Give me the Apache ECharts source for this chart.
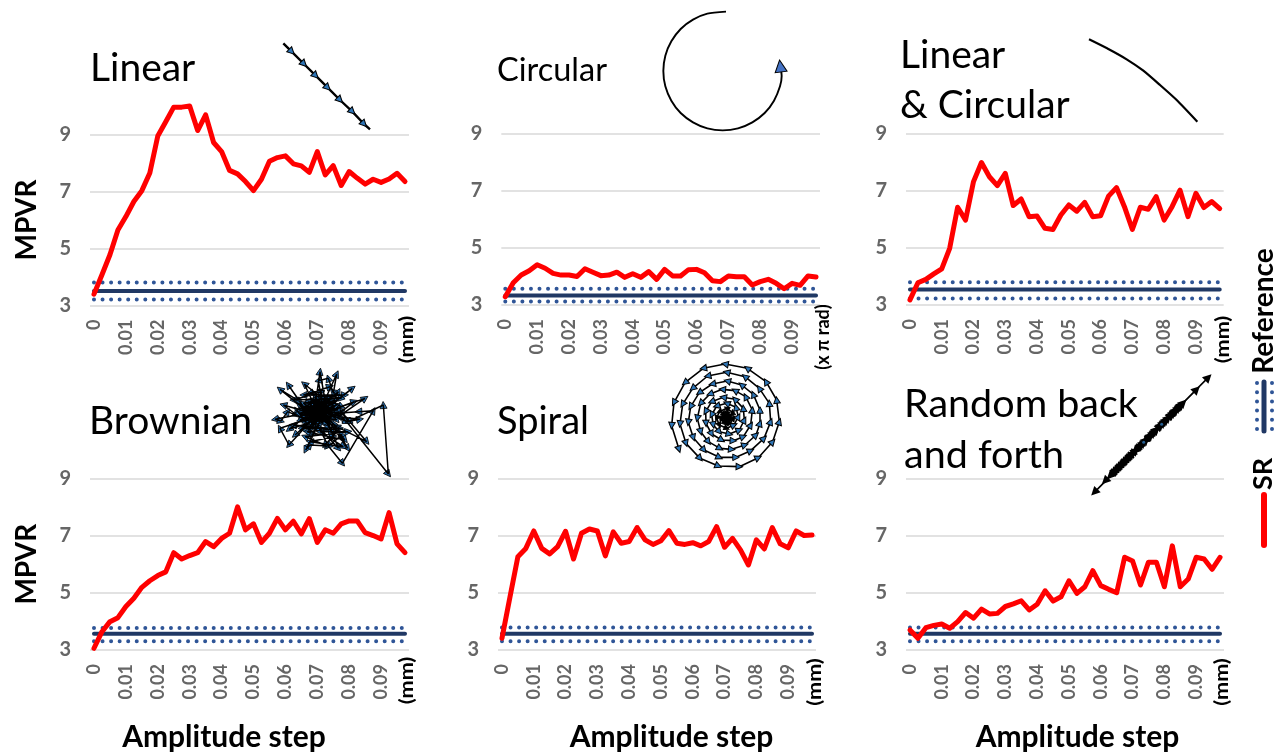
<!DOCTYPE html>
<html>
<head>
<meta charset="utf-8">
<style>html,body{margin:0;padding:0;background:#fff}#c{width:1285px;height:755px}</style>
<script src="https://cdn.jsdelivr.net/npm/echarts@6/dist/echarts.min.js"></script>
</head>
<body>
<div id="c"></div>
<script>
const stepLabels = ['0','','','','0.01','','','','0.02','','','','0.03','','','','0.04','','','','0.05','','','','0.06','','','','0.07','','','','0.08','','','','0.09','','',''];
const yTicks = [3,5,7,9];

const srLinear = [3.4,4.08,4.78,5.65,6.12,6.65,7.03,7.65,8.95,9.45,9.96,9.96,10.0,9.14,9.69,8.72,8.4,7.74,7.62,7.35,7.03,7.43,8.06,8.19,8.25,7.97,7.9,7.67,8.4,7.58,7.91,7.21,7.7,7.47,7.26,7.43,7.32,7.44,7.64,7.35];
const srCircular = [3.29,3.78,4.05,4.2,4.41,4.29,4.11,4.05,4.05,4.0,4.27,4.15,4.03,4.05,4.15,3.97,4.1,3.97,4.17,3.9,4.25,4.02,4.02,4.24,4.25,4.13,3.85,3.82,4.02,3.99,3.99,3.7,3.82,3.9,3.76,3.57,3.76,3.69,4.02,3.98];
const srLinearCircular = [3.18,3.78,3.9,4.09,4.27,4.99,6.43,5.98,7.33,8.0,7.5,7.19,7.62,6.49,6.72,6.1,6.12,5.69,5.65,6.16,6.51,6.29,6.6,6.1,6.13,6.82,7.12,6.45,5.65,6.43,6.36,6.8,5.98,6.45,7.03,6.1,6.92,6.42,6.63,6.38];
const srBrownian = [3.06,3.64,3.99,4.13,4.52,4.81,5.19,5.42,5.6,5.73,6.4,6.18,6.3,6.4,6.79,6.61,6.9,7.08,8.0,7.2,7.41,6.76,7.08,7.6,7.2,7.5,7.06,7.59,6.76,7.2,7.08,7.41,7.51,7.51,7.1,7.0,6.88,7.8,6.71,6.4];
const srSpiral = [3.41,4.84,6.26,6.55,7.16,6.55,6.36,6.61,7.15,6.18,7.08,7.23,7.16,6.29,7.13,6.73,6.79,7.28,6.85,6.69,6.82,7.17,6.73,6.69,6.75,6.64,6.79,7.31,6.59,6.9,6.5,5.97,6.85,6.53,7.28,6.71,6.57,7.16,7.0,7.02];
const srRandom = [3.7,3.41,3.78,3.86,3.91,3.76,3.99,4.31,4.11,4.43,4.26,4.28,4.52,4.61,4.72,4.4,4.6,5.07,4.71,4.86,5.42,4.98,5.21,5.77,5.25,5.12,5.0,6.24,6.11,5.27,6.07,6.07,5.21,6.64,5.21,5.48,6.24,6.18,5.82,6.24];

const refLinear = [3.21,3.51,3.81];
const refCircular = [3.12,3.33,3.57];
const refLinearCircular = [3.23,3.54,3.8];
const refBrownian = [3.31,3.57,3.77];
const refSpiral = [3.31,3.57,3.79];
const refRandom = [3.31,3.57,3.79];

// trajectory sketches in local units of the inset box
const pathLinear = [[25,25],[50,50],[87,87],[122,122],[158,158],[195,195],[232,230],[267,267],[285,283]];
const pathCircle = [[888,35],[832,41],[789,59],[752,87],[724,124],[706,167],[700,213],[706,259],[724,302],[752,339],[789,367],[832,385],[878,391],[924,385],[967,367],[1004,339],[1032,302],[1050,259],[1055,228],[1051,198]];
const pathArc = [[687,118],[745,147],[800,178],[850,212],[900,255],[950,300],[1012,365]];
const pathBrownian = [[150,160],[165,140],[130,175],[185,150],[120,140],[170,185],[205,135],[140,120],[110,165],[190,170],[150,130],[215,160],[125,190],[95,150],[175,115],[230,140],[160,175],[100,130],[145,195],[200,110],[135,150],[190,130],[118,72],[150,140],[165,35],[180,120],[215,42],[205,100],[190,55],[160,62],[175,150],[262,85],[200,135],[220,95],[140,165],[45,88],[105,125],[70,75],[125,155],[55,135],[95,165],[30,178],[48,183],[68,155],[115,175],[72,208],[130,190],[90,225],[140,180],[72,255],[45,205],[150,170],[130,212],[180,160],[140,225],[165,185],[122,270],[135,255],[190,258],[160,200],[220,265],[185,175],[248,265],[205,190],[195,215],[232,225],[190,258],[232,310],[325,152],[280,155],[215,160],[245,185],[285,178],[220,170],[300,115],[200,150],[268,125],[210,170],[245,185],[370,342],[355,135],[250,185],[225,150],[305,245],[215,200],[175,165],[130,150],[200,175],[115,130],[165,120],[145,180],[210,145],[105,180],[185,140],[125,165],[195,190],[155,145],[225,170],[135,135],[175,190],[110,150],[205,125],[145,170],[190,155],[120,185],[170,130],[215,180],[100,160],[160,150],[230,160],[140,190],[180,125],[125,145],[200,165],[150,185],[185,165],[135,170],[165,155],[240,240],[125,215],[225,205],[180,255],[120,230],[250,215],[165,215],[235,260],[135,245],[205,230],[150,110],[240,105],[115,105],[195,80],[135,100],[230,115],[85,120],[170,95],[150,205],[85,195],[190,205],[110,205],[210,120],[160,140],[120,160],[180,180],[140,145],[200,145],[155,165],[175,135],[130,125],[220,150],[145,155],[190,180],[110,175],[215,135],[165,170],[125,135],[185,190],[150,120],[205,160]];
const pathSpiralInward = [[57,268],[35,197],[42,128],[75,68],[130,25],[195,12],[262,25],[318,65],[350,120],[358,185],[338,245],[295,293],[238,320],[175,318],[120,295],[78,250],[60,192],[68,133],[98,85],[143,48],[200,37],[255,50],[298,85],[328,130],[332,185],[312,235],[272,272],[228,292],[178,292],[132,270],[100,233],[85,187],[92,140],[118,98],[157,72],[202,63],[245,75],[280,103],[300,150],[300,190],[288,225],[255,255],[215,268],[180,265],[145,245],[122,215],[112,175],[122,130],[150,102],[187,88],[225,92],[257,110],[277,150],[272,195],[250,230],[220,242],[185,240],[155,222],[138,190],[137,155],[155,125],[190,112],[225,118],[250,145],[253,180],[238,210],[208,222],[178,215],[160,195],[155,165],[170,138],[200,130],[228,142],[235,170],[222,195],[200,205],[178,195],[170,175],[178,155],[200,145],[218,157],[220,175],[210,190],[195,190],[183,178],[188,162],[200,157],[212,168],[207,182],[197,183],[190,173],[197,165],[205,170],[203,178],[197,177],[197,171],[201,172]];
const pathRandom = [[180,213],[120,273],[210,183],[95,298],[235,158],[140,253],[260,133],[85,308],[195,198],[110,283],[280,113],[155,238],[295,98],[75,318],[225,168],[130,263],[250,143],[100,293],[270,123],[165,228],[290,103],[90,303],[205,188],[115,278],[240,153],[150,243],[285,108],[80,313],[175,218],[125,268],[265,128],[105,288],[78,315],[92,301],[108,285],[124,269],[138,255],[152,241],[168,225],[184,209],[198,195],[214,179],[228,165],[244,149],[258,135],[274,119],[288,105],[60,333],[145,248],[28,367],[215,178],[335,58],[255,138],[370,22]];
const randomDots = [[230,163],[176,217]];

const panels = [
 {sr:srLinear, ref:refLinear, left:90, right:409, top:134.5, bottom:305.5, yName:'MPVR'},
 {sr:srCircular, ref:refCircular, left:501.3, right:820, top:134, bottom:305},
 {sr:srLinearCircular, ref:refLinearCircular, left:906, right:1223.7, top:134, bottom:305},
 {sr:srBrownian, ref:refBrownian, left:90, right:409, top:478.3, bottom:650, yName:'MPVR'},
 {sr:srSpiral, ref:refSpiral, left:498, right:816, top:478.3, bottom:650},
 {sr:srRandom, ref:refRandom, left:906, right:1224, top:478.3, bottom:650}
];

const FONT = 'Lato, "Open Sans", sans-serif';
const GRAY = '#666666', NAVY = '#203864', DOT = '#2F5597';
const grids = [], xAxes = [], yAxes = [], series = [];

panels.forEach((p, i) => {
  grids.push({left:p.left, top:p.top, width:p.right-p.left, height:p.bottom-p.top, containLabel:false});
  xAxes.push({gridIndex:i, type:'category', boundaryGap:true, data:stepLabels,
    axisLine:{show:false}, axisTick:{show:false}, splitLine:{show:false},
    axisLabel:{interval:0, rotate:90, margin:14, color:GRAY, fontFamily:FONT, fontSize:18, fontWeight:'bold'}});
  yAxes.push({gridIndex:i, type:'value', min:yTicks[0], max:yTicks[yTicks.length-1], interval:2,
    name:p.yName||'', nameLocation:'middle', nameGap:49, nameRotate:90,
    nameTextStyle:{fontFamily:FONT, fontSize:28, fontWeight:'bold', color:'#000'},
    axisLine:{show:false}, axisTick:{show:false},
    splitLine:{lineStyle:{color:'#D9D9D9', width:1.5}},
    axisLabel:{margin:19, color:GRAY, fontFamily:FONT, fontSize:20, fontWeight:'bold'}});
  const constant = v => stepLabels.map(() => v);
  [p.ref[0], p.ref[2]].forEach(v => series.push({type:'line', xAxisIndex:i, yAxisIndex:i, data:constant(v), symbol:'none', silent:true,
    lineStyle:{color:DOT, width:4, type:[0.01,8.54], cap:'round'}, z:2}));
  series.push({type:'line', xAxisIndex:i, yAxisIndex:i, data:constant(p.ref[1]), symbol:'none', silent:true,
    lineStyle:{color:NAVY, width:4, cap:'round'}, z:3});
  series.push({type:'line', xAxisIndex:i, yAxisIndex:i, data:p.sr, symbol:'none', silent:true, clip:false,
    lineStyle:{color:'#FF0000', width:5, cap:'round', join:'round'}, z:4});
});

// small trajectory insets; each has its own hidden axes, in units of 1/3 px
let gi = panels.length;
function inset(x, y, w, h, path, opt) {
  grids.push({left:x, top:y, width:w, height:h});
  xAxes.push({gridIndex:gi, type:'value', show:false, min:0, max:w*3});
  yAxes.push({gridIndex:gi, type:'value', show:false, min:0, max:h*3, inverse:true});
  const o = opt||{};
  const data = path.map((pt, k) => {
    const prev = path[Math.max(k-1,0)];
    const next = k===0 ? path[1] : pt;
    const dx = next[0]-prev[0] , dy = next[1]-prev[1];
    const item = {value:pt, symbolRotate:Math.atan2(-dx,-dy)*180/Math.PI};
    if (o.symbolAt && !o.symbolAt(k)) item.symbol = 'none';
    if (o.darkBelow && k < o.darkBelow) { item.itemStyle = {color:'#000'}; item.symbolSize = 5; }
    return item;
  });
  series.push({type:'line', xAxisIndex:gi, yAxisIndex:gi, data, silent:true, clip:false, smooth:o.smooth||false,
    showAllSymbol:true, showSymbol:!o.noSymbol, symbol:o.noSymbol?'none':'triangle', symbolSize:o.size||6,
    itemStyle:{color:o.fill||'#2E75B6', borderColor:'#000', borderWidth:o.bw==null?1:o.bw},
    lineStyle:{color:'#000', width:o.lineOnTop?0:(o.width||1.6), opacity:o.lineOnTop?0:1}, z:6});
  if (o.lineOnTop) {
    series.push({type:'line', xAxisIndex:gi, yAxisIndex:gi, data:path, silent:true, clip:false, symbol:'none',
      lineStyle:{color:'#000', width:o.width||1.6}, z:7});
  }
  gi++;
}
inset(275,35,105,100,pathLinear,{symbolAt:k=>k>0&&k<8, width:2.4, size:7});
inset(430,0,430,140,pathCircle,{smooth:0.25, size:12, fill:'#4472C4', width:1.9, symbolAt:k=>k===pathCircle.length-1});
inset(860,0,425,140,pathArc,{smooth:0.2, noSymbol:true, width:2.2});
inset(265,360,130,125,pathBrownian,{size:7, width:1.5, bw:0.8, lineOnTop:true});
inset(660,360,135,115,pathSpiralInward.slice().reverse(),{size:6.5, width:1.6, darkBelow:22});
inset(1085,370,130,130,pathRandom,{size:9, fill:'#000', width:1.6, bw:0});
// two blue specks on the dark stroke of the last inset
grids.push({left:1085, top:370, width:130, height:130});
xAxes.push({gridIndex:gi, type:'value', show:false, min:0, max:390});
yAxes.push({gridIndex:gi, type:'value', show:false, min:0, max:390, inverse:true});
series.push({type:'scatter', xAxisIndex:gi, yAxisIndex:gi, data:randomDots, symbolSize:3, silent:true, itemStyle:{color:'#2E75B6'}, z:8});

const BASE = 0.84; // distance from the text box top to the baseline, in em
function txt(text, x, y, size, o) {
  const a = o||{};
  const rotated = !!a.rot;
  const el = {type:'text', x, y:rotated ? y : y-BASE*size, rotation:a.rot||0, scaleX:a.sx||1, z:10, silent:true,
    style:{text, fill:a.fill||'#000', font:(a.weight||'normal')+' '+size+'px '+FONT,
      align:a.align||'left', verticalAlign:rotated?'middle':'top'}};
  if (a.soft) { el.style.shadowColor='rgba(0,0,0,0.35)'; el.style.shadowBlur=2; el.style.shadowOffsetX=1; el.style.shadowOffsetY=1; }
  return el;
}
const R = Math.PI/2;
const unit = {rot:R, align:'center', weight:'bold', sx:1.2};
const unitLong = {rot:R, align:'center', weight:'bold', sx:1.0};
const legendText = {rot:R, align:'center', weight:'bold'};
const xName = {align:'center', weight:'bold'};
const lineKey = (x, y1, y2, color, width, dash) => ({type:'line', z:10, silent:true,
  shape:{x1:x, y1, x2:x, y2}, style:{stroke:color, lineWidth:width, lineCap:'round', lineDash:dash||null}});

const graphicItems = [
  txt('Linear', 90, 82, 39, {soft:true}),
  txt('Circular', 497, 81, 32.5, {soft:true}),
  txt('Linear', 900, 69, 39, {soft:true}),
  txt('& Circular', 900, 119, 39, {soft:true}),
  txt('Brownian', 89, 435, 39, {soft:true}),
  txt('Spiral', 497, 435, 38, {soft:true}),
  txt('Random back', 904, 417, 39.5, {soft:true}),
  txt('and forth', 904, 468, 39.5, {soft:true}),
  txt('Amplitude step', 224, 748, 30, xName),
  txt('Amplitude step', 671.5, 748, 30, xName),
  txt('Amplitude step', 1077.5, 748, 30, xName),
  txt('(mm)', 407, 339.5, 18, unit),
  txt('(x π rad)', 822.7, 337, 18, unitLong),
  txt('(mm)', 1223, 339.5, 18, unit),
  txt('(mm)', 407, 680.5, 18, unit),
  txt('(mm)', 815, 682, 18, unit),
  txt('(mm)', 1222, 682, 18, unit),
  txt('Reference', 1264, 311, 28, legendText),
  txt('SR', 1263, 474, 27, legendText),
  lineKey(1264, 495, 545, '#FF0000', 6),
  lineKey(1264, 382, 431, NAVY, 5),
  lineKey(1257, 383, 430, DOT, 4, [0.01,9.19]),
  lineKey(1272, 383, 430, DOT, 4, [0.01,9.19])
];

const chart = echarts.init(document.getElementById('c'), null, {renderer:'canvas', width:1285, height:755});
chart.setOption({animation:false, backgroundColor:'#fff', tooltip:{show:false},
  grid:grids, xAxis:xAxes, yAxis:yAxes, series, graphic:{elements:graphicItems}});
</script>
</body>
</html>
